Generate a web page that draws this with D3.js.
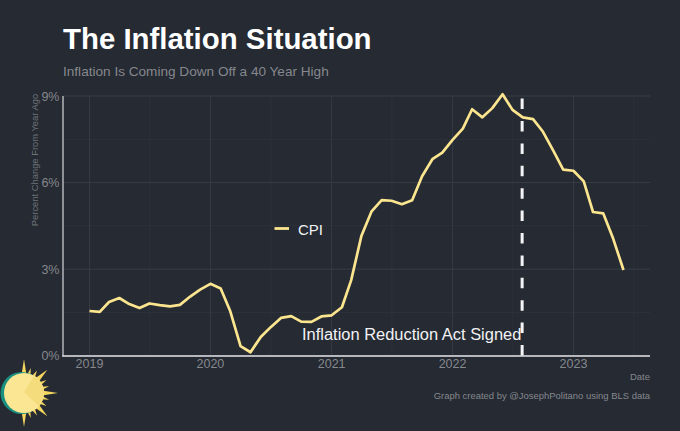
<!DOCTYPE html>
<html>
<head>
<meta charset="utf-8">
<script src="https://cdn.jsdelivr.net/npm/d3@7"></script>
<style>
  html, body { margin: 0; padding: 0; background: #252a33; }
  text { font-family: "Liberation Sans", Arial, sans-serif; }
</style>
</head>
<body>
<div class="chart"></div>
<script>
// Monthly CPI, percent change from year ago, Jan 2019 - Jun 2023.
const startYear = 2019;
const cpiValues = [
  1.55, 1.52, 1.86, 2.00, 1.79, 1.65, 1.81, 1.75, 1.71, 1.76, 2.05, 2.29,
  2.49, 2.33, 1.54, 0.33, 0.12, 0.65, 0.99, 1.31, 1.37, 1.18, 1.17, 1.36,
  1.40, 1.68, 2.62, 4.16, 4.99, 5.39, 5.37, 5.25, 5.39, 6.22, 6.81, 7.04,
  7.48, 7.87, 8.54, 8.26, 8.58, 9.06, 8.52, 8.26, 8.20, 7.76, 7.11, 6.45,
  6.41, 6.04, 4.98, 4.93, 4.05, 2.97
];
const yTicks = [0, 3, 6, 9];
const yMinor = [1.5, 4.5, 7.5];
const xYears = [2019, 2020, 2021, 2022, 2023];
const xMinorYears = [2019, 2020, 2021, 2022, 2023];
const signedDate = new Date(2022, 6, 30);

const width = 680, height = 431;
const cpi = cpiValues.map((v, i) => ({date: new Date(startYear, i, 1), value: v}));

const svg = d3.select('.chart')
  .append('svg')
    .attr('width', width)
    .attr('height', height)
    .style('display', 'block');

svg.append('rect').attr('width', width).attr('height', height).attr('fill', '#252a33');

// Scales.
const x = d3.scaleTime()
  .domain([new Date(2018, 9, 13), new Date(2023, 7, 20)])
  .range([63, 650]);
const y = d3.scaleLinear().domain([0, 9]).range([355.7, 96]);

// Grid.
const grid = svg.append('g');
grid.selectAll('.minor-y').data(yMinor).join('line')
  .attr('x1', 63).attr('x2', 650)
  .attr('y1', d => y(d)).attr('y2', d => y(d))
  .attr('stroke', '#31353e').attr('stroke-width', 0.7);
grid.selectAll('.minor-x').data(xMinorYears).join('line')
  .attr('y1', 96).attr('y2', 355.7)
  .attr('x1', d => x(new Date(d, 6, 2))).attr('x2', d => x(new Date(d, 6, 2)))
  .attr('stroke', '#2f333c').attr('stroke-width', 0.7);
grid.selectAll('.major-y').data(yTicks).join('line')
  .attr('x1', 63).attr('x2', 650)
  .attr('y1', d => y(d)).attr('y2', d => y(d))
  .attr('stroke', '#3a3e47').attr('stroke-width', 0.9);
grid.selectAll('.major-x').data(xYears).join('line')
  .attr('y1', 96).attr('y2', 355.7)
  .attr('x1', d => x(new Date(d, 0, 1))).attr('x2', d => x(new Date(d, 0, 1)))
  .attr('stroke', '#383c45').attr('stroke-width', 0.9);

// Axis lines.
svg.append('line').attr('x1', 63).attr('x2', 63).attr('y1', 96).attr('y2', 356.5)
  .attr('stroke', '#c9cbd0').attr('stroke-width', 1.3);
svg.append('line').attr('x1', 62.4).attr('x2', 650).attr('y1', 356).attr('y2', 356)
  .attr('stroke', '#e4e5e8').attr('stroke-width', 1.5);

// Tick labels.
svg.selectAll('.ylab').data(yTicks).join('text')
  .attr('x', 59.5).attr('y', d => y(d) + 4.5)
  .attr('text-anchor', 'end').attr('font-size', 12.5).attr('fill', '#85888d')
  .text(d => d + '%');
svg.selectAll('.xlab').data(xYears).join('text')
  .attr('x', d => x(new Date(d, 0, 1))).attr('y', 368)
  .attr('text-anchor', 'middle').attr('font-size', 12.5).attr('fill', '#85888d')
  .text(d => d);

// Line.
const line = d3.line().x(d => x(d.date)).y(d => y(d.value));
svg.append('path').datum(cpi)
  .attr('d', line)
  .attr('fill', 'none')
  .attr('stroke', '#fbe58f')
  .attr('stroke-width', 2.7)
  .attr('stroke-linejoin', 'round');

// Signing date marker.
svg.append('line')
  .attr('x1', x(signedDate)).attr('x2', x(signedDate))
  .attr('y1', 355.5).attr('y2', 98)
  .attr('stroke', '#f4f4f6').attr('stroke-width', 3)
  .attr('stroke-dasharray', '10.5 11.9');
svg.append('text')
  .attr('x', 302).attr('y', 340)
  .attr('font-size', 16.45).attr('fill', '#f2f2f4')
  .text('Inflation Reduction Act Signed');

// Legend.
svg.append('line').attr('x1', 274.5).attr('x2', 289).attr('y1', 228.5).attr('y2', 228.5)
  .attr('stroke', '#fbe58f').attr('stroke-width', 2.8);
svg.append('text').attr('x', 298).attr('y', 234.5)
  .attr('font-size', 15).attr('fill', '#f2f2f4').text('CPI');

// Titles.
svg.append('text').attr('x', 63).attr('y', 49)
  .attr('font-size', 29.4).attr('font-weight', 700).attr('fill', '#ffffff')
  .text('The Inflation Situation');
svg.append('text').attr('x', 63).attr('y', 76)
  .attr('font-size', 13.6).attr('fill', '#85888d')
  .text('Inflation Is Coming Down Off a 40 Year High');
svg.append('text')
  .attr('transform', 'translate(38,160) rotate(-90)')
  .attr('text-anchor', 'middle').attr('font-size', 9.4).attr('fill', '#6f7278')
  .text('Percent Change From Year Ago');
svg.append('text').attr('x', 650).attr('y', 380)
  .attr('text-anchor', 'end').attr('font-size', 9.5).attr('fill', '#85888d')
  .text('Date');
svg.append('text').attr('x', 650).attr('y', 399)
  .attr('text-anchor', 'end').attr('font-size', 9.45).attr('fill', '#85888d')
  .text('Graph created by @JosephPolitano using BLS data');

// Sun logo.
const sun = svg.append('g').attr('transform', 'translate(24,393)');
const rays = d3.range(24).map(i => i);
sun.selectAll('polygon').data(rays.filter(i => Math.sin(i / 24 * 2 * Math.PI) > -0.05)).join('polygon')
  .attr('points', i => {
    const a = i / 24 * 2 * Math.PI - Math.PI / 2;
    const len = i % 6 === 0 ? 34 : i % 3 === 0 ? 33 : 26;
    const w = i % 3 === 0 ? 0.14 : 0.1;
    return [[len, 0], [18, w], [18, -w]].map((p, j) => {
      const t = a + (j === 0 ? 0 : p[1]);
      return [p[0] * Math.cos(t), p[0] * Math.sin(t)].join(',');
    }).join(' ');
  })
  .attr('fill', '#f5d65e');
sun.append('circle').attr('cx', -2.5).attr('cy', 0).attr('r', 21).attr('fill', '#1a8f80');
sun.append('circle').attr('r', 20).attr('fill', '#fbe694');
sun.append('path')
  .attr('d', 'M0,-1 L10,-17.3 A20,20 0 0 1 15,13.2 Z')
  .attr('fill', '#f4dc7c');
</script>
</body>
</html>
